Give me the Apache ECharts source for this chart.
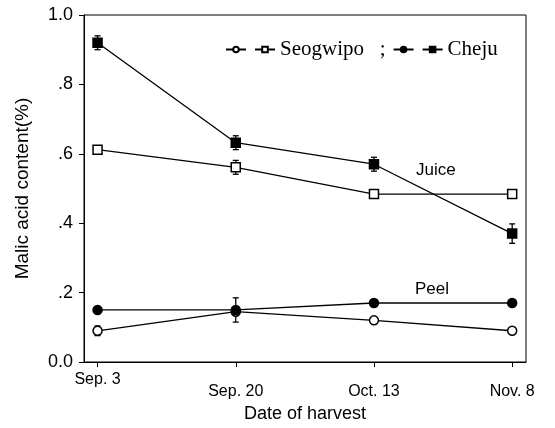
<!DOCTYPE html>
<html>
<head>
<meta charset="utf-8">
<script src="https://cdn.jsdelivr.net/npm/echarts@6/dist/echarts.min.js"></script>
<style>html,body{margin:0;padding:0;background:#fff;}#c{width:555px;height:428px;}</style>
</head>
<body>
<div id="c"></div>
<script>
const categories = ['Sep. 3', 'Sep. 20', 'Oct. 13', 'Nov. 8'];
const yTickLabels = ['0.0', '.2', '.4', '.6', '.8', '1.0'];
const seogwipoJuice = [0.612, 0.561, 0.484, 0.484];
const seogwipoJuiceErr = [0.0, 0.02, 0.01, 0.01];
const chejuJuice = [0.92, 0.632, 0.57, 0.37];
const chejuJuiceErr = [0.02, 0.02, 0.02, 0.028];
const seogwipoPeel = [0.09, 0.145, 0.12, 0.09];
const seogwipoPeelErr = [0.014, 0.0, 0.0, 0.0];
const chejuPeel = [0.15, 0.15, 0.17, 0.17];
const chejuPeelErr = [0.0, 0.035, 0.0, 0.0];

const chart = echarts.init(document.getElementById('c'));
const idx = categories.map((c, i) => i);
function pts(vals) { return vals.map((v, i) => [i, v]); }
function errs(vals, e) { return vals.map((v, i) => [i, v - e[i], v + e[i]]).filter((d, i) => e[i] > 0); }

function errSeries(data) {
  return {
    type: 'custom',
    silent: true,
    z: 1,
    renderItem: function (params, api) {
      const x = api.value(0);
      const lo = api.coord([x, api.value(1)]);
      const hi = api.coord([x, api.value(2)]);
      const w = 3;
      const st = { stroke: '#000', lineWidth: 1.3 };
      return {
        type: 'group',
        children: [
          { type: 'line', shape: { x1: lo[0], y1: lo[1], x2: hi[0], y2: hi[1] }, style: st },
          { type: 'line', shape: { x1: lo[0] - w, y1: lo[1], x2: lo[0] + w, y2: lo[1] }, style: st },
          { type: 'line', shape: { x1: hi[0] - w, y1: hi[1], x2: hi[0] + w, y2: hi[1] }, style: st }
        ]
      };
    },
    data: data
  };
}

function lineSeries(name, vals, symbol, filled) {
  return {
    name: name,
    type: 'line',
    data: pts(vals),
    symbol: symbol,
    symbolSize: 9,
    z: 3,
    lineStyle: { color: '#000', width: 1.3 },
    itemStyle: { color: filled ? '#000' : '#fff', borderColor: '#000', borderWidth: 1.5 },
    emphasis: { disabled: true },
    animation: false
  };
}

const legendText = { 'SP': '', 'SJ': 'Seogwipo   ;', 'CP': '', 'CJ': 'Cheju' };

chart.setOption({
  animation: false,
  grid: { left: 84, right: 29, top: 15, bottom: 61, show: true, borderColor: '#000', borderWidth: 1 },
  legend: {
    left: 220, top: 34,
    itemWidth: 20, itemHeight: 7, itemGap: 7,
    data: ['SP', 'SJ', 'CP', 'CJ'],
    formatter: function (n) { return legendText[n]; },
    textStyle: { fontFamily: 'Liberation Serif', fontSize: 21, color: '#000' }
  },
  xAxis: {
    type: 'value', min: -0.098, max: 3.1,
    splitLine: { show: false },
    axisLine: { onZero: false, lineStyle: { color: '#000', width: 1 } },
    axisTick: { customValues: idx, length: 5, lineStyle: { color: '#000' } },
    axisLabel: {
      customValues: idx, margin: 10, color: '#000',
      fontFamily: 'Liberation Sans', fontSize: 16,
      formatter: function (v) {
        const i = Math.round(v);
        return i === 0 ? '{hi|' + categories[i] + '}' : '{lo|' + categories[i] + '}';
      },
      rich: {
        hi: { fontFamily: 'Liberation Sans', fontSize: 16, color: '#000' },
        lo: { fontFamily: 'Liberation Sans', fontSize: 16, color: '#000', padding: [12, 0, 0, 0] }
      }
    },
    name: 'Date of harvest', nameLocation: 'middle', nameGap: 43,
    nameTextStyle: { fontFamily: 'Liberation Sans', fontSize: 18, color: '#000' }
  },
  yAxis: {
    type: 'value', min: 0, max: 1, interval: 0.2,
    splitLine: { show: false },
    axisLine: { show: true, onZero: false, lineStyle: { color: '#000', width: 1 } },
    axisTick: { show: true, length: 5, lineStyle: { color: '#000' } },
    axisLabel: {
      margin: 11, color: '#000', fontFamily: 'Liberation Sans', fontSize: 18,
      formatter: function (v) { return yTickLabels[Math.round(v / 0.2)]; }
    },
    name: 'Malic acid content(%)', nameLocation: 'middle', nameGap: 52,
    nameTextStyle: { fontFamily: 'Liberation Sans', fontSize: 19, color: '#000' }
  },
  graphic: [
    { type: 'text', left: 416, top: 162, style: { text: 'Juice', font: '17px "Liberation Sans"', fill: '#000' } },
    { type: 'text', left: 415, top: 281, style: { text: 'Peel', font: '17px "Liberation Sans"', fill: '#000' } }
  ],
  series: [
    errSeries(errs(seogwipoJuice, seogwipoJuiceErr)),
    errSeries(errs(chejuJuice, chejuJuiceErr)),
    errSeries(errs(seogwipoPeel, seogwipoPeelErr)),
    errSeries(errs(chejuPeel, chejuPeelErr)),
    lineSeries('SP', seogwipoPeel, 'circle', false),
    lineSeries('SJ', seogwipoJuice, 'rect', false),
    lineSeries('CP', chejuPeel, 'circle', true),
    lineSeries('CJ', chejuJuice, 'rect', true)
  ]
});
</script>
</body>
</html>
